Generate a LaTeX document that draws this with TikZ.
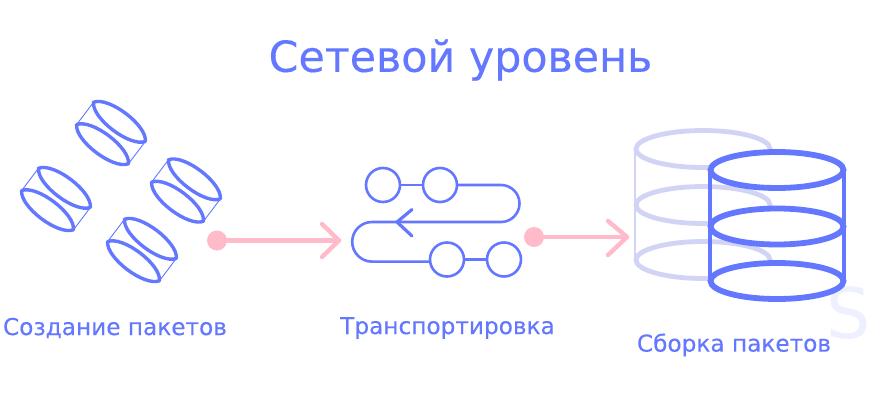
\documentclass[tikz,border=0pt]{standalone}
\usepackage{fontspec}
\setmainfont{DejaVu Sans}
\newfontfamily\labelface[FakeBold=0.3]{DejaVu Sans}
\definecolor{blu}{HTML}{6478FF}
\definecolor{pale}{HTML}{D2D4F5}
\definecolor{pnk}{HTML}{FFBBC9}
\definecolor{ghost}{HTML}{EEF0FF}
\tikzset{
  txt/.style={text=blu,inner sep=0pt,font=\labelface\fontsize{23.2}{26}\selectfont},
  dot/.style={circle,fill=pnk,minimum size=20pt,inner sep=0pt},
  stopc/.style={circle,draw=blu,line width=2.6pt,fill=white,minimum size=34pt,inner sep=0pt},
  pinkline/.style={draw=pnk,line width=4.4pt,line cap=round,line join=round},
  route/.style={draw=blu,line width=2.6pt,line cap=round,line join=round},
  palering/.style={draw=pale,line width=4.8pt},
  darkring/.style={draw=blu,line width=5.8pt,fill=white},
  lens/.style={draw=blu,line width=3.4pt,line join=round},
  pics/pack/.style={code={
    \begin{scope}[rotate=-37]
      \draw[blu,line width=.9pt] (-32.5,-14)--(-32.5,14) (32.5,-14)--(32.5,14);
      \draw[lens] (-32.5,14) .. controls (-24,28) and (24,28) .. (32.5,14) .. controls (24,0) and (-24,0) .. cycle;
      \draw[lens] (-32.5,-14) .. controls (-24,0) and (24,0) .. (32.5,-14) .. controls (24,-28) and (-24,-28) .. cycle;
    \end{scope}
  }}
}
\begin{document}
\begin{tikzpicture}[x=1pt,y=-1pt]
\useasboundingbox (0,0) rectangle (892,400);
\fill[white] (0,0) rectangle (892,400);
\node[text=ghost,inner sep=0pt,font=\fontsize{70}{70}\selectfont] (ghostS) at (849,313) {S};
\node[txt,font=\labelface\fontsize{42.8}{44}\selectfont] (title) at (460.5,60) {Сетевой уровень};
\node[txt] (l1) at (115,328) {Создание пакетов};
\node[txt] (l2) at (447.5,328) {Транспортировка};
\node[txt] (l3) at (734,345) {Сборка пакетов};
% packets
\pic at (111,133) {pack};
\pic at (56,199) {pack};
\pic at (186,190.5) {pack};
\pic at (142,250) {pack};
% arrow 1
\node[dot] (d1) at (217,240.5) {};
\coordinate (t1) at (339,240.5);
\draw[pinkline] (d1) -- (t1);
\draw[pinkline] (322,224) -- (t1) -- (322,257);
% route
\node[stopc] (c1) at (383,185) {};
\node[stopc] (c2) at (440,185) {};
\node[stopc] (c3) at (447,259.5) {};
\node[stopc] (c4) at (504,259.5) {};
\coordinate (rarr) at (397,222);
\coordinate (rl) at (372,261.6);
\draw[route] (c1) -- (c2);
\draw[route] (c3) -- (c4);
\draw[route] (c2.east) -- (501,185) arc[start angle=-90,end angle=90,radius=18.5] -- (372,222) arc[start angle=270,end angle=90,radius=19.8] -- (c3.west |- rl);
\draw[route,line width=3.2pt] (412,209.5) -- (rarr) -- (412,236);
% arrow 2
\node[dot] (d2) at (534,237) {};
\coordinate (t2) at (627,237);
\draw[pinkline] (d2) -- (t2);
\draw[pinkline] (608,221) -- (t2) -- (608,255);
% pale stack
\draw[pale,line width=2.6pt] (635,149) -- (635,260);
\draw[palering] (703,149) ellipse [x radius=67,y radius=18.5];
\draw[palering] (703,205) ellipse [x radius=67,y radius=18.5];
\draw[palering] (703,260) ellipse [x radius=67,y radius=18.5];
% dark stack
\draw[darkring] (777,170) ellipse [x radius=66.5,y radius=18];
\draw[darkring] (777,226.5) ellipse [x radius=66.5,y radius=18];
\draw[darkring] (777,281) ellipse [x radius=66.5,y radius=18];
\draw[blu,line width=3.2pt] (710,170) -- (710,281) (844,170) -- (844,281);
\end{tikzpicture}
\end{document}
